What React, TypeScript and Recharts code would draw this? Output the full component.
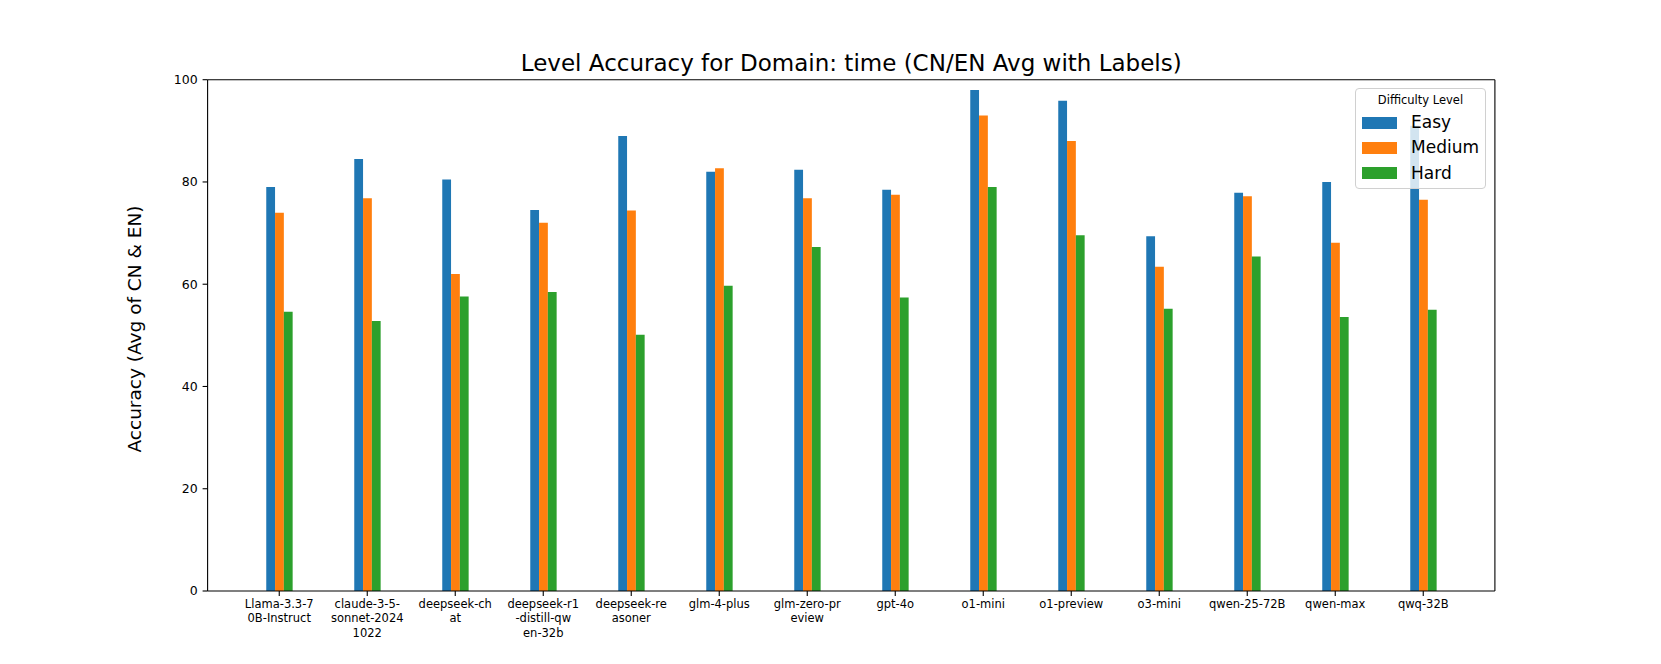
import { BarChart, Bar, XAxis, YAxis } from 'recharts';

// wrapped tick labels, as they appear under each group
const models = [
  'Llama-3.3-7\n0B-Instruct',
  'claude-3-5-\nsonnet-2024\n1022',
  'deepseek-ch\nat',
  'deepseek-r1\n-distill-qw\nen-32b',
  'deepseek-re\nasoner',
  'glm-4-plus',
  'glm-zero-pr\neview',
  'gpt-4o',
  'o1-mini',
  'o1-preview',
  'o3-mini',
  'qwen-25-72B',
  'qwen-max',
  'qwq-32B',
];

const easy = [79.0, 84.5, 80.5, 74.5, 89.0, 82.0, 82.4, 78.5, 98.0, 95.9, 69.4, 77.9, 80.0, 91.0];
const medium = [74.0, 76.8, 62.0, 72.0, 74.4, 82.7, 76.8, 77.5, 93.0, 88.0, 63.4, 77.2, 68.1, 76.5];
const hard = [54.6, 52.8, 57.6, 58.5, 50.1, 59.7, 67.3, 57.4, 79.0, 69.6, 55.2, 65.4, 53.6, 55.0];

const yTicks = [0, 20, 40, 60, 80, 100];

const series = [
  { key: 'easy', name: 'Easy', color: '#1f77b4' },
  { key: 'medium', name: 'Medium', color: '#ff7f0e' },
  { key: 'hard', name: 'Hard', color: '#2ca02c' },
];

const data = models.map((name, i) => ({
  name,
  easy: easy[i],
  medium: medium[i],
  hard: hard[i],
}));

const FONT = "'DejaVu Sans', sans-serif";

function ModelTick({ x, y, payload }: any) {
  const lines = String(payload.value).split('\n');
  return (
    <text x={x} y={y} textAnchor="middle" fontSize={11.5} fill="#000" fontFamily={FONT}>
      {lines.map((line, i) => (
        <tspan key={i} x={x} dy={i === 0 ? '0.93em' : 14.5}>
          {line}
        </tspan>
      ))}
    </text>
  );
}

function DifficultyLegend() {
  return (
    <div
      style={{
        position: 'absolute',
        left: 1355,
        top: 88,
        width: 129,
        height: 99,
        border: '1px solid #d0d0d0',
        borderRadius: 4,
        background: 'rgba(255,255,255,0.8)',
        fontFamily: FONT,
      }}
    >
      <div style={{ position: 'absolute', top: 5, width: '100%', textAlign: 'center', fontSize: 11.5, lineHeight: '13px' }}>
        Difficulty Level
      </div>
      {series.map((s, i) => (
        <div key={s.key} style={{ position: 'absolute', left: 6, top: 27 + i * 25.3, height: 13, display: 'flex', alignItems: 'center' }}>
          <div style={{ width: 35, height: 12, background: s.color }} />
          <span style={{ marginLeft: 14, fontSize: 17, lineHeight: '13px' }}>{s.name}</span>
        </div>
      ))}
    </div>
  );
}

export default function App() {
  return (
    <div style={{ position: 'absolute', left: 0, top: 0, width: 1661, height: 664, background: '#fff', fontFamily: FONT }}>
      <BarChart
        width={1661}
        height={664}
        data={data}
        margin={{ top: 78.7, right: 165.1, bottom: 13, left: 147.6 }}
        barGap={0}
      >
        <XAxis
          dataKey="name"
          interval={0}
          height={60}
          padding={{ left: 27.65, right: 27.65 }}
          tickSize={5}
          tickMargin={1}
          axisLine={{ stroke: '#000', strokeWidth: 1.1 }}
          tickLine={{ stroke: '#000', strokeWidth: 1.1 }}
          tick={<ModelTick />}
        />
        <XAxis
          xAxisId="top"
          orientation="top"
          dataKey="name"
          height={1}
          padding={{ left: 27.65, right: 27.65 }}
          tick={false}
          tickLine={false}
          axisLine={{ stroke: '#000', strokeWidth: 1.1 }}
        />
        <YAxis
          domain={[0, 100]}
          ticks={yTicks}
          width={60}
          tickSize={5}
          tickMargin={5}
          axisLine={{ stroke: '#000', strokeWidth: 1.1 }}
          tickLine={{ stroke: '#000', strokeWidth: 1.1 }}
          tick={{ fill: '#000', fontSize: 12.5, fontFamily: FONT }}
        />
        <YAxis
          yAxisId="right"
          orientation="right"
          type="number"
          domain={[0, 100]}
          width={1}
          tick={false}
          tickLine={false}
          axisLine={{ stroke: '#000', strokeWidth: 1.1 }}
        />
        {series.map((s) => (
          <Bar key={s.key} dataKey={s.key} name={s.name} fill={s.color} barSize={8.8} isAnimationActive={false} />
        ))}
      </BarChart>
      <svg width={1661} height={664} style={{ position: 'absolute', left: 0, top: 0, pointerEvents: 'none' }}>
        <text x={851.25} y={71} textAnchor="middle" fontSize={23} fontFamily={FONT} fill="#000">
          Level Accuracy for Domain: time (CN/EN Avg with Labels)
        </text>
        <text
          transform="translate(141,329) rotate(-90)"
          textAnchor="middle"
          fontSize={18.5}
          fontFamily={FONT}
          fill="#000"
        >
          Accuracy (Avg of CN &amp; EN)
        </text>
      </svg>
      <DifficultyLegend />
    </div>
  );
}
